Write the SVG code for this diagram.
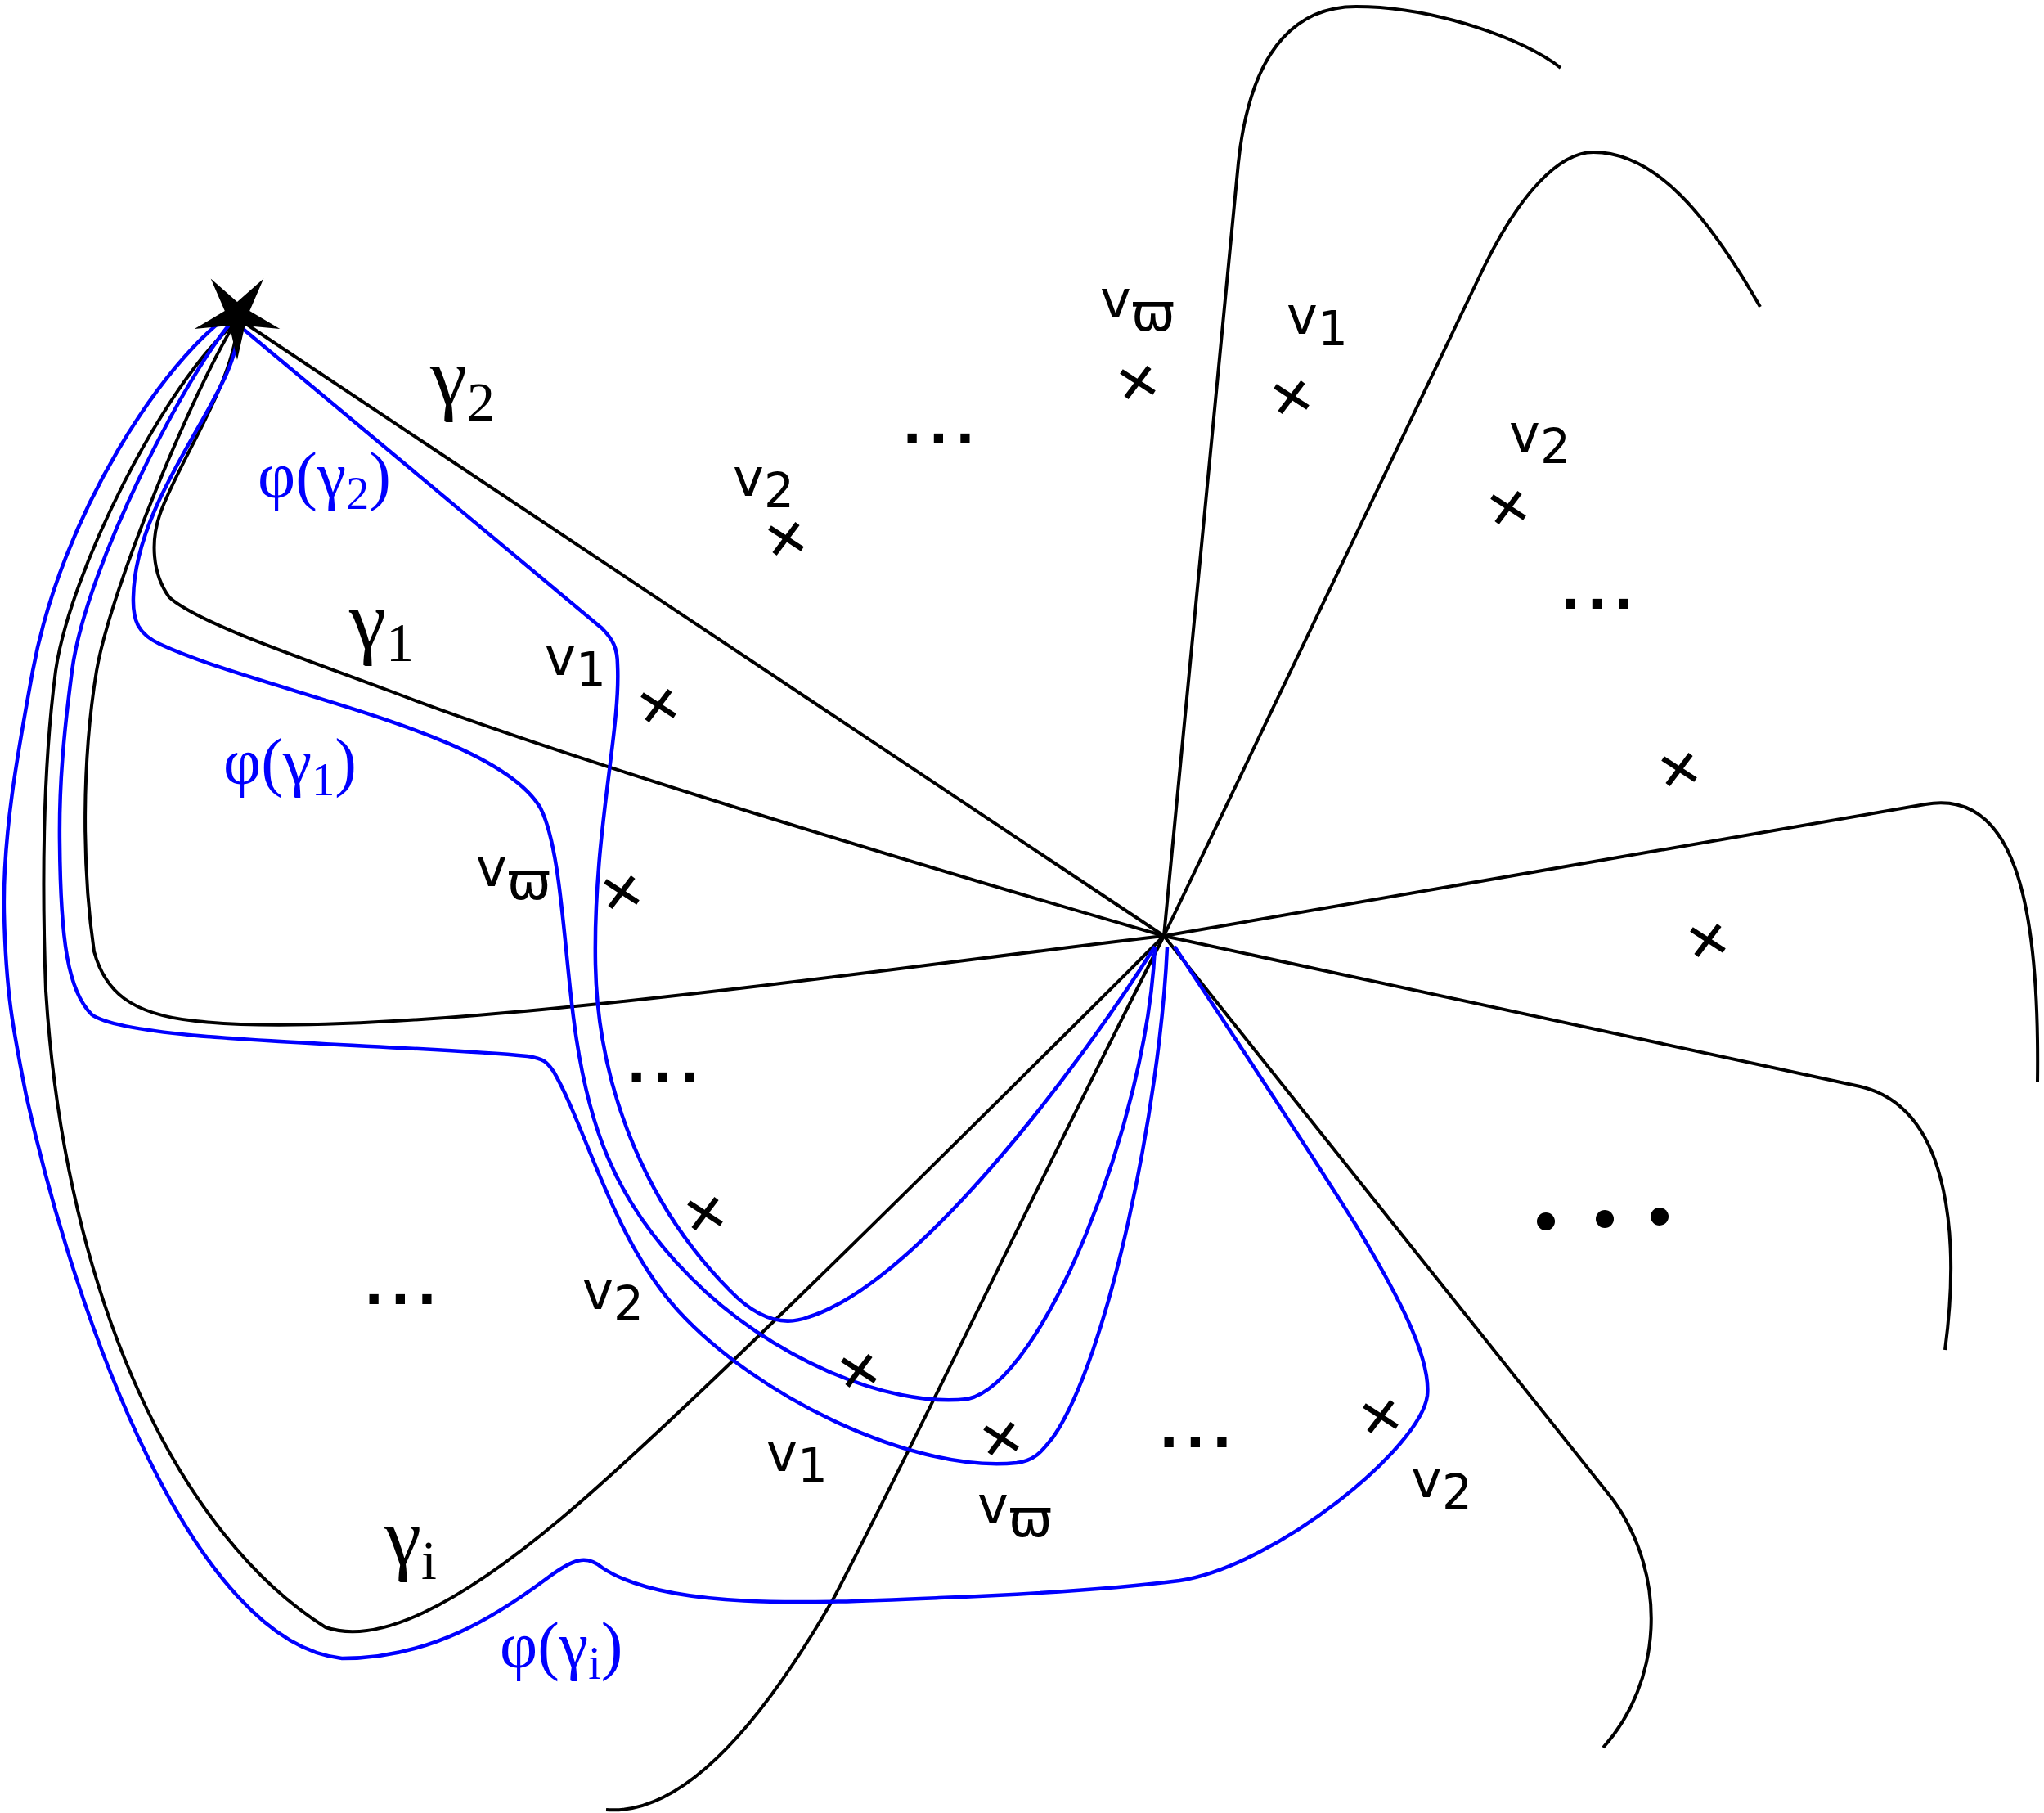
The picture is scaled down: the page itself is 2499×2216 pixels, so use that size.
<svg xmlns="http://www.w3.org/2000/svg" width="2499" height="2216" viewBox="0 0 2499 2216">
<defs>
<style>
.k{fill:none;stroke:#000;stroke-width:4}
.b{fill:none;stroke:#0000ff;stroke-width:4.5}
.x{stroke:#000;stroke-width:6.5;fill:none}
.g{font-family:"Liberation Serif",serif;font-size:102px;fill:#000}
.p{font-family:"Liberation Serif",serif;font-size:80px;fill:#0000ff}
.v{font-family:"DejaVu Sans",sans-serif;font-size:64px;fill:#000}
.d{font-family:"DejaVu Sans",sans-serif;font-weight:bold;font-size:64px;letter-spacing:8px;fill:#000}
</style>
<g id="cross"><line x1="-20" y1="-13" x2="20" y2="13"/><line x1="-14" y1="19" x2="14" y2="-18"/></g>
</defs>
<rect width="2499" height="2216" fill="#fff"/>
<g id="connectors">
<path class="k" d="M1423,1144 L292,390"/>
<path class="k" d="M1423,1144 C1150,1065 700,930 478,845 C380,808 242,762 207,730 C185,700 185,660 195,630 C215,570 285,470 290,398"/>
<path class="k" d="M1423,1144 C1116,1179 478,1275 239,1248 C159,1240 128,1211 115,1163 C100,1060 100,930 118,820 C135,720 235,480 287,395"/>
<path class="k" d="M1423,1144 C1195,1371 829,1737 685,1857 C558,1963 462,2011 398,1989 C223,1880 80,1594 56,1211 C50,1050 55,920 68,820 C85,700 200,470 287,395"/>
<path class="k" d="M1423,1144 C1275,1434 1116,1769 1020,1952 C924,2120 829,2219 741,2212"/>
<path class="k" d="M1423,1144 L1514,199 C1530,48 1594,8 1658,8 C1753,8 1865,48 1908,83"/>
<path class="k" d="M1423,1144 L1814,327 C1857,239 1905,186 1948,186 C2024,186 2088,263 2152,375"/>
<path class="k" d="M1423,1144 L2354,983 C2462,964 2494,1100 2491,1323"/>
<path class="k" d="M1423,1144 L2274,1328 C2391,1355 2394,1530 2378,1650"/>
<path class="k" d="M1423,1144 L1972,1833 C2040,1928 2032,2056 1960,2136"/>
<path class="b" d="M290,396 L736,768 C749,781 755,792 755,813 C759,893 725,1020 728,1179 C731,1339 797,1482 893,1578 C924,1610 956,1622 988,1610 C1116,1570 1307,1323 1412,1157"/>
<path class="b" d="M290,398 C300,470 165,600 163,730 C162,760 170,775 195,787 C319,845 606,893 661,988 C685,1036 689,1148 701,1243 C717,1371 749,1466 845,1562 C940,1658 1084,1721 1183,1710 C1275,1690 1403,1371 1412,1157"/>
<path class="b" d="M282,395 C230,455 105,690 88,820 C78,896 72,960 73,1030 C74,1150 83,1211 112,1240 C159,1275 478,1275 645,1291 C666,1294 669,1299 677,1310 C717,1379 749,1514 829,1602 C924,1706 1116,1801 1243,1788 C1267,1785 1275,1772 1288,1756 C1355,1658 1418,1355 1427,1158"/>
<path class="b" d="M282,384 C200,440 75,630 40,820 C22,918 3,1020 5,1116 C7,1212 16,1259 32,1339 C96,1626 239,2008 418,2027 C526,2027 606,1976 669,1929 C701,1905 717,1900 736,1916 C813,1968 988,1960 1148,1953 C1275,1948 1371,1941 1442,1932 C1562,1913 1737,1769 1745,1706 C1750,1658 1706,1578 1658,1498 C1578,1371 1482,1227 1436,1157"/>
</g>
<g id="basepoint"><polygon points="290,440 280.6,397.9 237.7,402 274.8,380.1 257.7,340.5 290,369 322.3,340.5 305.2,380.1 342.3,402 299.4,397.9" fill="#000"/></g>
<g id="punctures" class="x">
<use href="#cross" x="1391" y="467"/>
<use href="#cross" x="1579" y="485"/>
<use href="#cross" x="961" y="658"/>
<use href="#cross" x="1844" y="620"/>
<use href="#cross" x="805" y="862"/>
<use href="#cross" x="760" y="1090"/>
<use href="#cross" x="2053" y="940"/>
<use href="#cross" x="2088" y="1149"/>
<use href="#cross" x="862" y="1483"/>
<use href="#cross" x="1050" y="1675"/>
<use href="#cross" x="1224" y="1758"/>
<use href="#cross" x="1688" y="1731"/>
</g>
<g id="labels">
<text class="g" x="526" y="494">γ<tspan font-size="68" dy="20">2</tspan></text>
<text class="p" x="315" y="608">φ(γ<tspan font-size="56" dy="14">2</tspan><tspan dy="-14">)</tspan></text>
<text class="g" x="427" y="792">γ<tspan font-size="68" dy="16">1</tspan></text>
<text class="p" x="273" y="958">φ(γ<tspan font-size="56" dy="14">1</tspan><tspan dy="-14">)</tspan></text>
<text class="g" x="470" y="1912">γ<tspan font-size="68" dy="18">i</tspan></text>
<text class="p" x="611" y="2038">φ(γ<tspan font-size="56" dy="14">i</tspan><tspan dy="-14">)</tspan></text>
<text class="v" x="1345" y="388">v<tspan dy="16">ϖ</tspan></text>
<text class="v" x="1573" y="408">v<tspan dy="14" font-size="58">1</tspan></text>
<text class="v" x="1845" y="552">v<tspan dy="14" font-size="58">2</tspan></text>
<text class="v" x="896" y="606">v<tspan dy="14" font-size="58">2</tspan></text>
<text class="v" x="666" y="825">v<tspan dy="14" font-size="58">1</tspan></text>
<text class="v" x="582" y="1083">v<tspan dy="16">ϖ</tspan></text>
<text class="v" x="712" y="1600">v<tspan dy="14" font-size="58">2</tspan></text>
<text class="v" x="937" y="1798">v<tspan dy="14" font-size="58">1</tspan></text>
<text class="v" x="1195" y="1862">v<tspan dy="16">ϖ</tspan></text>
<text class="v" x="1725" y="1830">v<tspan dy="14" font-size="58">2</tspan></text>
<text class="d" x="1103" y="542">...</text>
<text class="d" x="1908" y="744">...</text>
<text class="d" x="766" y="1323">...</text>
<text class="d" x="445" y="1594">...</text>
<text class="d" x="1417" y="1769">...</text>
</g>
<g id="dots" fill="#000">
<circle cx="1890" cy="1493" r="11"/>
<circle cx="1962" cy="1490" r="11"/>
<circle cx="2029" cy="1487" r="11"/>
</g>
</svg>
